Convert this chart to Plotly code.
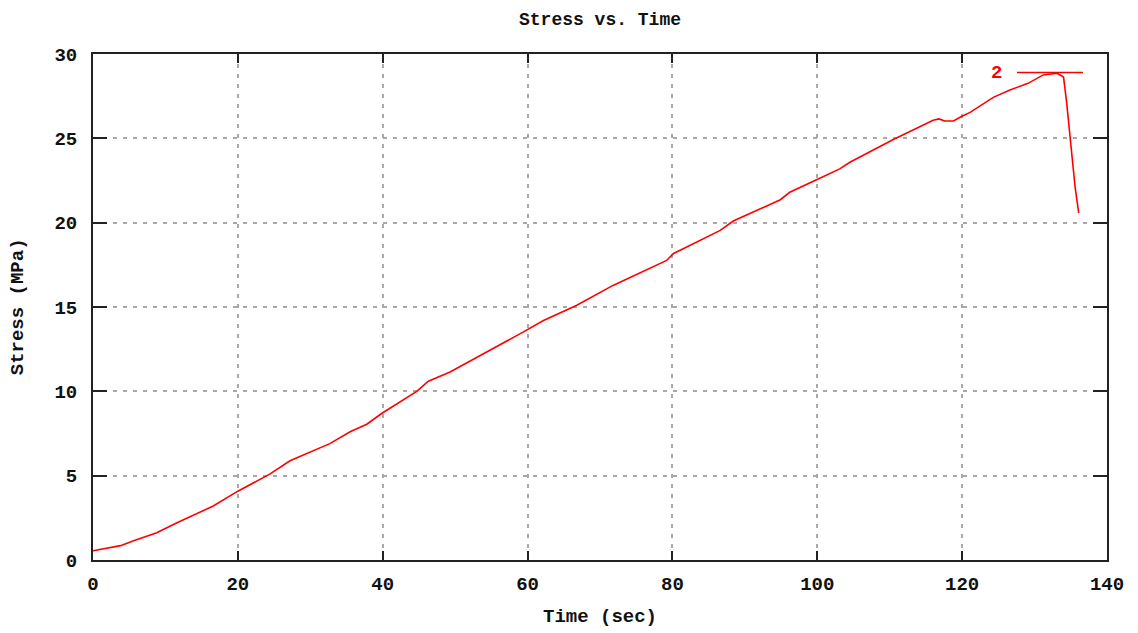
import plotly.graph_objects as go

# Stress test record
time_sec = [0, 3.8, 5.6, 8.8, 11.6, 13.9, 16.6, 20.0, 24.4, 27.2, 32.7, 35.5,
            37.8, 39.9, 42.8, 44.7, 46.3, 49.3, 59.0, 62.2, 66.8, 71.8, 79.2,
            80.1, 86.6, 88.4, 94.9, 96.2, 99.9, 103.1, 104.5, 110.5, 116.0,
            116.8, 117.6, 118.8, 119.9, 121.1, 124.3, 126.6, 129.1, 131.2,
            133.1, 134.0, 134.4, 134.9, 135.6, 136.1]
stress_mpa = [0.55, 0.85, 1.14, 1.62, 2.21, 2.66, 3.2, 4.08, 5.09, 5.88, 6.9,
              7.6, 8.05, 8.7, 9.47, 10.0, 10.6, 11.15, 13.42, 14.2, 15.1,
              16.28, 17.76, 18.16, 19.54, 20.1, 21.36, 21.8, 22.54, 23.19,
              23.58, 24.93, 26.07, 26.15, 26.03, 26.03, 26.29, 26.54, 27.43,
              27.87, 28.26, 28.76, 28.86, 28.63, 27.24, 25.06, 22.1, 20.56]
series_name = "2"

x_ticks = [0, 20, 40, 60, 80, 100, 120, 140]
y_ticks = [0, 5, 10, 15, 20, 25, 30]

FONT = "Liberation Mono"
RED = "#ff0000"

fig = go.Figure()
fig.add_trace(go.Scatter(
    x=time_sec, y=stress_mpa, mode="lines", name=series_name,
    line=dict(color=RED, width=1.6), showlegend=False,
))

axis_common = dict(
    showline=True, linecolor="#222222", linewidth=2, mirror="allticks",
    ticks="inside", tickcolor="#222222", tickwidth=2,
    showgrid=True, gridcolor="#a8a8a8", gridwidth=1.5, griddash="4px,6px",
    zeroline=False,
    tickfont=dict(family=FONT, size=19, color="#111111", weight="bold"),
)

fig.update_xaxes(range=[0, 140], tickvals=x_ticks, ticklen=9,
                 ticklabelstandoff=5, **axis_common)
fig.update_yaxes(range=[0, 30], tickvals=y_ticks, ticklen=14,
                 ticklabelstandoff=10, **axis_common)

# Key: label on the left, line sample on the right
fig.add_shape(type="line", xref="paper", yref="paper",
              x0=0.9112, x1=0.9763, y0=0.9635, y1=0.9635,
              line=dict(color=RED, width=1.6))
fig.add_annotation(text="<b>" + series_name + "</b>", xref="paper", yref="paper",
                   x=0.8984, y=0.9615, xanchor="right", yanchor="middle",
                   showarrow=False, font=dict(family=FONT, size=19, color=RED))

# Titles
fig.add_annotation(text="<b>Stress vs. Time</b>", xref="paper", yref="paper",
                   x=0.5, y=(560 - 19) / 506.5, xanchor="center", yanchor="middle",
                   showarrow=False, font=dict(family=FONT, size=18, color="#111111"))
fig.add_annotation(text="<b>Time (sec)</b>", xref="paper", yref="paper",
                   x=0.5, y=(560 - 617) / 506.5, xanchor="center", yanchor="middle",
                   showarrow=False, font=dict(family=FONT, size=19, color="#111111"))
fig.add_annotation(text="<b>Stress (MPa)</b>", xref="paper", yref="paper",
                   x=(18 - 93) / 1014, y=(560 - 307) / 506.5, textangle=-90,
                   xanchor="center", yanchor="middle",
                   showarrow=False, font=dict(family=FONT, size=19, color="#111111"))

fig.update_layout(
    width=1138, height=633,
    margin=dict(l=93, r=31, t=54, b=73),
    paper_bgcolor="white", plot_bgcolor="white",
    font=dict(family=FONT, color="#111111"),
)

fig.write_html("out.html")
